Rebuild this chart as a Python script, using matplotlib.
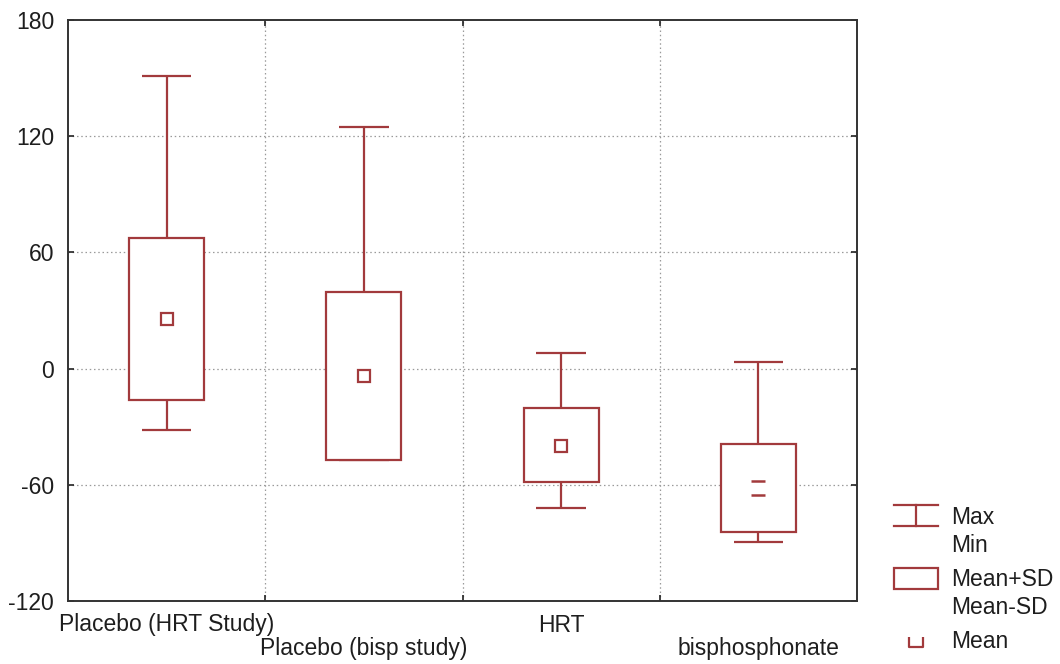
import matplotlib
matplotlib.use("Agg")
import matplotlib.pyplot as plt
from matplotlib.patches import Rectangle
from matplotlib.path import Path
import numpy as np

# ---- data ----
categories = ["Placebo (HRT Study)", "Placebo (bisp study)", "HRT", "bisphosphonate"]
means = [25.6, -3.8, -40.0, -61.7]
sd_upper = [67.4, 39.5, -20.3, -38.9]   # Mean+SD
sd_lower = [-16.2, -47.3, -58.5, -84.4]  # Mean-SD
maxima = [151.0, 124.7, 8.0, 3.4]
minima = [-31.7, -47.3, -72.0, -89.5]
yticks = [-120, -60, 0, 60, 120, 180]

RED = "#A23A3C"
TXT = "#1e1e1e"
FS = 16.5
plt.rcParams["font.family"] = ["Liberation Sans", "DejaVu Sans"]

fig = plt.figure(figsize=(10.6, 6.64), dpi=100)
W, H = 1060, 664
ax = fig.add_axes([68 / W, 1 - 601 / H, (857 - 68) / W, (601 - 20) / H])

box_w = 0.38
cap_w = 0.25
lw = 1.6

# marker styles: square, and a "two-bar" square for last (as rendered)
eq_marker = Path([(-1, 1), (1, 1), (-1, -1), (1, -1)],
                 [Path.MOVETO, Path.LINETO, Path.MOVETO, Path.LINETO])
marker_styles = ["s", "s", "s", eq_marker]

xs = np.arange(len(categories))
for i, x in enumerate(xs):
    ax.vlines(x, minima[i], maxima[i], color=RED, lw=lw, zorder=2)
    ax.hlines([maxima[i], minima[i]], x - cap_w / 2, x + cap_w / 2, color=RED, lw=lw, zorder=3)
    ax.add_patch(Rectangle((x - box_w / 2, sd_lower[i]), box_w, sd_upper[i] - sd_lower[i],
                           facecolor="white", edgecolor=RED, lw=lw, zorder=3))
    if marker_styles[i] == "s":
        ax.plot([x], [means[i]], marker="s", ms=8.5, mfc="white", mec=RED, mew=1.6, zorder=4)
    else:
        ax.plot([x], [means[i]], marker=marker_styles[i], ms=10, mfc="none", mec=RED, mew=1.8,
                ls="none", zorder=4)

ax.set_xlim(-0.5, len(categories) - 0.5)
ax.set_ylim(-120, 180)
ax.set_yticks(yticks)
ax.set_yticklabels([str(v) for v in yticks], fontsize=FS, color=TXT)

ax.set_xticks(xs)
labels = [c if i % 2 == 0 else "\n" + c for i, c in enumerate(categories)]
ax.set_xticklabels(labels, fontsize=FS, color=TXT, linespacing=1.0)
ax.tick_params(axis="x", which="major", length=0, pad=9)
ax.set_xticks(np.arange(0.5, len(categories) - 0.5, 1.0), minor=True)
ax.tick_params(axis="x", which="minor", direction="in", length=4, width=1.2, top=True, bottom=True, color="#222222")
ax.tick_params(axis="y", which="major", direction="in", length=4, width=1.2, left=True, right=True,
               pad=10, color="#222222")

ax.grid(False)
for yv in yticks[1:-1]:
    ax.axhline(yv, color="#9a9a9a", lw=0.9, ls=(0, (1.2, 2.2)), zorder=1)
for xv in np.arange(0.5, len(categories) - 0.5, 1.0):
    ax.axvline(xv, color="#9a9a9a", lw=0.9, ls=(0, (1.2, 2.2)), zorder=1)

for s in ax.spines.values():
    s.set_color("#333333")
    s.set_linewidth(1.4)

# ---- legend (drawn in pixel space) ----
lax = fig.add_axes([0, 0, 1, 1], zorder=5)
lax.set_xlim(0, W)
lax.set_ylim(H, 0)
lax.axis("off")
lx0, lx1 = 894, 938
lxm = (lx0 + lx1) / 2
lax.plot([lx0, lx1], [505, 505], color=RED, lw=lw)
lax.plot([lx0, lx1], [526, 526], color=RED, lw=lw)
lax.plot([lxm, lxm], [505, 526], color=RED, lw=lw)
lax.add_patch(Rectangle((lx0, 568), lx1 - lx0, 21, facecolor="white", edgecolor=RED, lw=lw))
u_marker = Path([(-1, 0.75), (-1, -0.75), (1, -0.75), (1, 0.75)],
                [Path.MOVETO, Path.LINETO, Path.LINETO, Path.LINETO])
lax.plot([lxm], [642], marker=u_marker, ms=10, mfc="none", mec=RED, mew=1.6, ls="none")
tx = 951
for txt, yy in [("Max", 517), ("Min", 545), ("Mean+SD", 579), ("Mean-SD", 607), ("Mean", 642)]:
    lax.text(tx, yy, txt, fontsize=FS, color=TXT, va="center", ha="left")

fig.savefig("out.png", dpi=100)
